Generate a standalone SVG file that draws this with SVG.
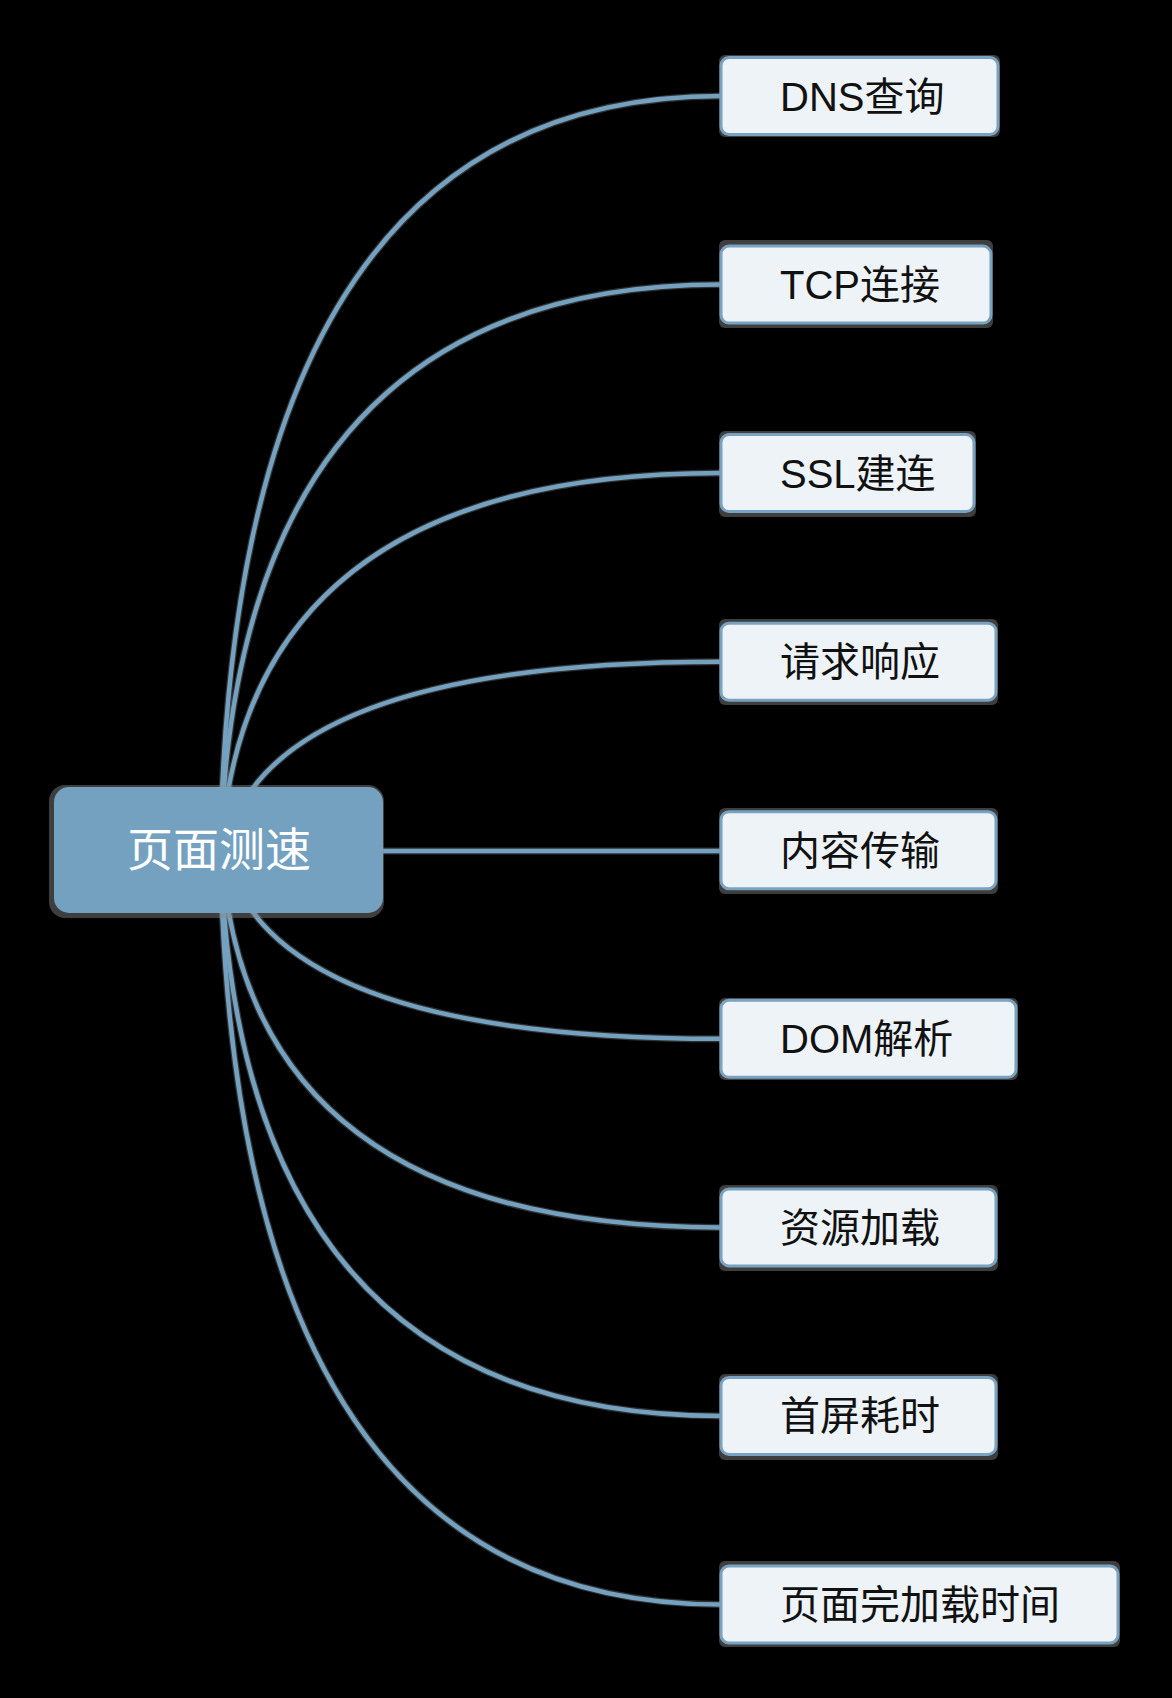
<svg xmlns="http://www.w3.org/2000/svg" width="1172" height="1698" viewBox="0 0 1172 1698">
  <style>
    .bg { fill: #000000; }
    .halo { fill: none; stroke: #8a8a8a; stroke-width: 7; stroke-opacity: 0.35; }
    .link { fill: none; stroke: #73a1bf; stroke-width: 4.5; stroke-linecap: round; }
    .shadow { fill: #8a8a8a; fill-opacity: 0.45; }
    .root-box { fill: #73a1bf; }
    .root-text { font-family: "Liberation Sans", "Noto Sans CJK SC", sans-serif; font-size: 46px; fill: #ffffff; text-anchor: middle; }
    .leaf-box { fill: #eef3f7; stroke: #78a2c0; stroke-width: 3; }
    .leaf-text { font-family: "Liberation Sans", "Noto Sans CJK SC", sans-serif; font-size: 40px; fill: #111111; }
  </style>

  <rect class="bg" x="0" y="0" width="1172" height="1698"/>

  <!-- connectors: root to each leaf -->
  <g id="connectors">
    <g id="connector-halos">
      <path class="halo" d="M220 890 Q220 96 721 96"/>
      <path class="halo" d="M220 890 Q220 284.6 721 284.6"/>
      <path class="halo" d="M220 890 Q220 473.1 721 473.1"/>
      <path class="halo" d="M220 890 Q220 661.7 721 661.7"/>
      <path class="halo" d="M383 851 L721 851"/>
      <path class="halo" d="M220 810 Q220 1038.8 721 1038.8"/>
      <path class="halo" d="M220 810 Q220 1227.4 721 1227.4"/>
      <path class="halo" d="M220 810 Q220 1415.9 721 1415.9"/>
      <path class="halo" d="M220 810 Q220 1604.5 721 1604.5"/>
    </g>
    <path class="link" d="M220 890 Q220 96 721 96"/>
    <path class="link" d="M220 890 Q220 284.6 721 284.6"/>
    <path class="link" d="M220 890 Q220 473.1 721 473.1"/>
    <path class="link" d="M220 890 Q220 661.7 721 661.7"/>
    <path class="link" d="M383 851 L721 851"/>
    <path class="link" d="M220 810 Q220 1038.8 721 1038.8"/>
    <path class="link" d="M220 810 Q220 1227.4 721 1227.4"/>
    <path class="link" d="M220 810 Q220 1415.9 721 1415.9"/>
    <path class="link" d="M220 810 Q220 1604.5 721 1604.5"/>
  </g>

  <!-- root topic -->
  <g id="root">
    <rect class="shadow" x="49" y="785" width="335" height="133" rx="16"/>
    <rect class="root-box" x="54" y="787" width="329" height="126" rx="15"/>
    <text class="root-text" x="219" y="866">页面测速</text>
  </g>

  <!-- leaf topics -->
  <g id="node-dns">
    <rect class="shadow" x="719" y="55" width="281" height="82" rx="6"/>
    <rect class="leaf-box" x="721" y="57.5" width="277" height="77" rx="8"/>
    <text class="leaf-text" x="780" y="110.5">DNS查询</text>
  </g>
  <g id="node-tcp">
    <rect class="shadow" x="719" y="240" width="274" height="88" rx="6"/>
    <rect class="leaf-box" x="721" y="246.1" width="270" height="77" rx="8"/>
    <text class="leaf-text" x="780" y="299.1">TCP连接</text>
  </g>
  <g id="node-ssl">
    <rect class="shadow" x="719" y="431" width="257" height="86" rx="6"/>
    <rect class="leaf-box" x="721" y="434.6" width="253" height="77" rx="8"/>
    <text class="leaf-text" x="780" y="487.6">SSL建连</text>
  </g>
  <g id="node-request">
    <rect class="shadow" x="719" y="619" width="279" height="86" rx="6"/>
    <rect class="leaf-box" x="721" y="623.2" width="275" height="77" rx="8"/>
    <text class="leaf-text" x="780" y="676.2">请求响应</text>
  </g>
  <g id="node-transfer">
    <rect class="shadow" x="719" y="808" width="279" height="86" rx="6"/>
    <rect class="leaf-box" x="721" y="811.7" width="275" height="77" rx="8"/>
    <text class="leaf-text" x="780" y="864.7">内容传输</text>
  </g>
  <g id="node-dom">
    <rect class="shadow" x="719" y="998" width="299" height="82" rx="6"/>
    <rect class="leaf-box" x="721" y="1000.3" width="295" height="77" rx="8"/>
    <text class="leaf-text" x="780" y="1053.3">DOM解析</text>
  </g>
  <g id="node-resources">
    <rect class="shadow" x="719" y="1185" width="279" height="86" rx="6"/>
    <rect class="leaf-box" x="721" y="1188.9" width="275" height="77" rx="8"/>
    <text class="leaf-text" x="780" y="1241.9">资源加载</text>
  </g>
  <g id="node-first-screen">
    <rect class="shadow" x="719" y="1374" width="279" height="86" rx="6"/>
    <rect class="leaf-box" x="721" y="1377.4" width="275" height="77" rx="8"/>
    <text class="leaf-text" x="780" y="1430.4">首屏耗时</text>
  </g>
  <g id="node-full-load">
    <rect class="shadow" x="719" y="1561" width="401" height="86" rx="6"/>
    <rect class="leaf-box" x="721" y="1566" width="397" height="77" rx="8"/>
    <text class="leaf-text" x="780" y="1619">页面完加载时间</text>
  </g>
</svg>
